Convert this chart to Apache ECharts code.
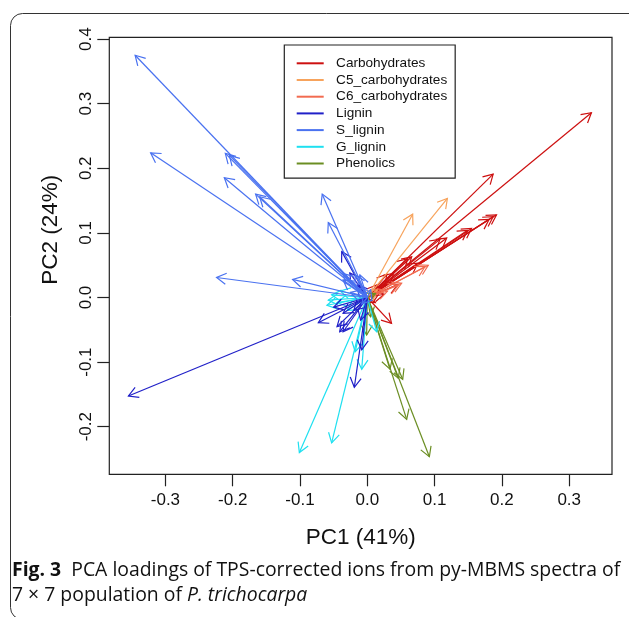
<!DOCTYPE html>
<html>
<head>
<meta charset="utf-8">
<script src="https://cdn.jsdelivr.net/npm/echarts@6/dist/echarts.min.js"></script>
<style>
html,body{margin:0;padding:0;background:#fff;}
#chart{width:629px;height:617px;}
</style>
</head>
<body>
<div id="chart"></div>
<script>
// ---- Data (PCA loadings: arrow end points [PC1, PC2]) ----
const categories = ['Carbohydrates','C5_carbohydrates','C6_carbohydrates','Lignin','S_lignin','G_lignin','Phenolics'];
const carbohydrates = [
  [0.333,0.286],[0.187,0.191],[0.192,0.128],[0.187,0.125],[0.181,0.121],
  [0.155,0.107],[0.149,0.104],[0.118,0.092],[0.108,0.090],[0.075,0.053],
  [0.066,0.063],[0.060,0.060],[0.039,0.0375],[0.029,0.036],[0.036,-0.040],
  [0.020,0.010],[0.015,0.020],[0.025,0.005],[0.012,-0.008],[0.045,0.020]
];
const c5Carbohydrates = [[0.119,0.1535],[0.0674,0.129],[0.015,0.012]];
const c6Carbohydrates = [[0.0906,0.050],[0.0857,0.0477],[0.051,0.022],[0.046,0.019],[0.030,0.010]];
const phenolics = [
  [0.0922,-0.2465],[0.0585,-0.1886],[0.0526,-0.1266],[0.046,-0.125],
  [0.0337,-0.111],[-0.001,-0.058],[0.005,-0.030],[0.012,0.006]
];
const gLignin = [
  [-0.101,-0.240],[-0.053,-0.225],[-0.0083,-0.111],[-0.018,-0.084],
  [-0.058,-0.004],[-0.053,0.004],[0.014,-0.053],[-0.060,-0.012],
  [-0.030,-0.020],[-0.040,0.010],[-0.045,-0.008]
];
const lignin = [
  [-0.355,-0.1525],[-0.0193,-0.139],[-0.0083,-0.081],[-0.0728,-0.039],
  [-0.036,-0.053],[-0.041,-0.053],[-0.036,-0.0245],[-0.038,0.071],
  [-0.026,0.038],[-0.045,-0.045],[-0.020,-0.020],[-0.015,0.020],
  [-0.050,-0.015],[-0.010,-0.035]
];
const sLignin = [
  [-0.345,0.375],[-0.322,0.224],[-0.211,0.223],[-0.205,0.220],[-0.2125,0.1855],
  [-0.166,0.160],[-0.160,0.156],[-0.067,0.160],[-0.058,0.116],[-0.224,0.031],
  [-0.111,0.028],[-0.011,0.035],[-0.036,0.027],[-0.036,0.037],[-0.018,0.035],
  [-0.015,0.015],[-0.025,0.008],[0.005,0.012],[-0.008,-0.010]
];
const xTicks = [-0.3,-0.2,-0.1,0.0,0.1,0.2,0.3];
const yTicks = [-0.2,-0.1,0.0,0.1,0.2,0.3,0.4];
const seriesColors = ['#CD1010','#F7A35C','#F26B50','#2020C8','#4A72F0','#1EE0F0','#6B8E23'];
const seriesData = [carbohydrates,c5Carbohydrates,c6Carbohydrates,lignin,sLignin,gLignin,phenolics];
const drawOrder = [0,1,2,6,5,3,4];

const chart = echarts.init(document.getElementById('chart'), null, {renderer:'canvas'});

function renderArrow(params, api) {
  const p0 = api.coord([0, 0]);
  const p1 = api.coord([api.value(0), api.value(1)]);
  const ang = Math.atan2(p1[1]-p0[1], p1[0]-p0[0]);
  const L = 11, a = Math.PI/6;
  const h1 = [p1[0] - L*Math.cos(ang - a), p1[1] - L*Math.sin(ang - a)];
  const h2 = [p1[0] - L*Math.cos(ang + a), p1[1] - L*Math.sin(ang + a)];
  const color = api.visual('color');
  return {type:'group', children:[
    {type:'line', shape:{x1:p0[0],y1:p0[1],x2:p1[0],y2:p1[1]}, style:{stroke:color, lineWidth:1.2}},
    {type:'polyline', shape:{points:[h1,p1,h2]}, style:{stroke:color, fill:null, lineWidth:1.2}}
  ]};
}

const series = drawOrder.map(i => ({
  name: categories[i],
  type: 'custom',
  renderItem: renderArrow,
  clip: true,
  itemStyle: {color: seriesColors[i]},
  encode: {x: 0, y: 1},
  data: seriesData[i],
  silent: true,
  animation: false
}));

const FONT = '"Liberation Sans", Arial, sans-serif';
const option = {
  backgroundColor: '#fff',
  animation: false,
  grid: {left: 109.3, right: 17, top: 37.3, bottom: 142.7, show: true, borderColor: '#222', borderWidth: 1.2, containLabel: false, outerBoundsMode: 'none'},
  xAxis: {
    type: 'value', min: -0.3834, max: 0.3636,
    name: 'PC1 (41%)', nameLocation: 'middle', nameGap: 52,
    nameTextStyle: {fontFamily: FONT, fontSize: 22.5, color: '#111'},
    axisLine: {show: false, onZero: false},
    splitLine: {show: false},
    axisTick: {show: true, length: 12, customValues: xTicks, lineStyle: {color: '#222', width: 1.2}},
    axisLabel: {customValues: xTicks, margin: 18, fontFamily: FONT, fontSize: 17, color: '#111',
      formatter: v => v.toFixed(1)}
  },
  yAxis: {
    type: 'value', min: -0.2737, max: 0.4028,
    name: 'PC2 (24%)', nameLocation: 'middle', nameGap: 47, nameRotate: 90,
    nameTextStyle: {fontFamily: FONT, fontSize: 22.5, color: '#111', padding: [0, 0, 0, 52]},
    axisLine: {show: false, onZero: false},
    splitLine: {show: false},
    axisTick: {show: true, length: 12, customValues: yTicks, lineStyle: {color: '#222', width: 1.2}},
    axisLabel: {customValues: yTicks, rotate: 90, margin: 14, fontFamily: FONT, fontSize: 17, color: '#111',
      formatter: v => v.toFixed(1)}
  },
  legend: {
    data: categories,
    orient: 'vertical',
    left: 284.3, top: 45,
    padding: [11.3, 8, 7.7, 12.4],
    itemGap: 2.7,
    itemWidth: 27, itemHeight: 2,
    icon: 'rect',
    borderColor: '#222', borderWidth: 1.2,
    backgroundColor: '#fff',
    selectedMode: false,
    textStyle: {fontFamily: FONT, fontSize: 13.6, lineHeight: 14, color: '#111', padding: [0, 0, 0, 7.4]}
  },
  graphic: [
    {type: 'rect', silent: true,
      shape: {x: 10.5, y: 13.5, width: 700, height: 606, r: 12},
      style: {fill: null, stroke: '#333', lineWidth: 1}, z: -1},
    {type: 'text', left: 12, top: 561, silent: true,
      style: {text: '{b|Fig. 3}  PCA loadings of TPS-corrected ions from py-MBMS spectra of',
        font: '19.4px "Open Sans"', fill: '#111',
        rich: {b: {fontWeight: 'bold', fontFamily: 'Open Sans', fontSize: 19.4, fill: '#111'}}}},
    {type: 'text', left: 12, top: 586, silent: true,
      style: {text: '7 × 7 population of {i|P. trichocarpa}',
        font: '19.4px "Open Sans"', fill: '#111',
        rich: {i: {fontStyle: 'italic', fontFamily: 'Open Sans', fontSize: 19.4, fill: '#111'}}}}
  ],
  series: series
};
chart.setOption(option);
</script>
</body>
</html>
